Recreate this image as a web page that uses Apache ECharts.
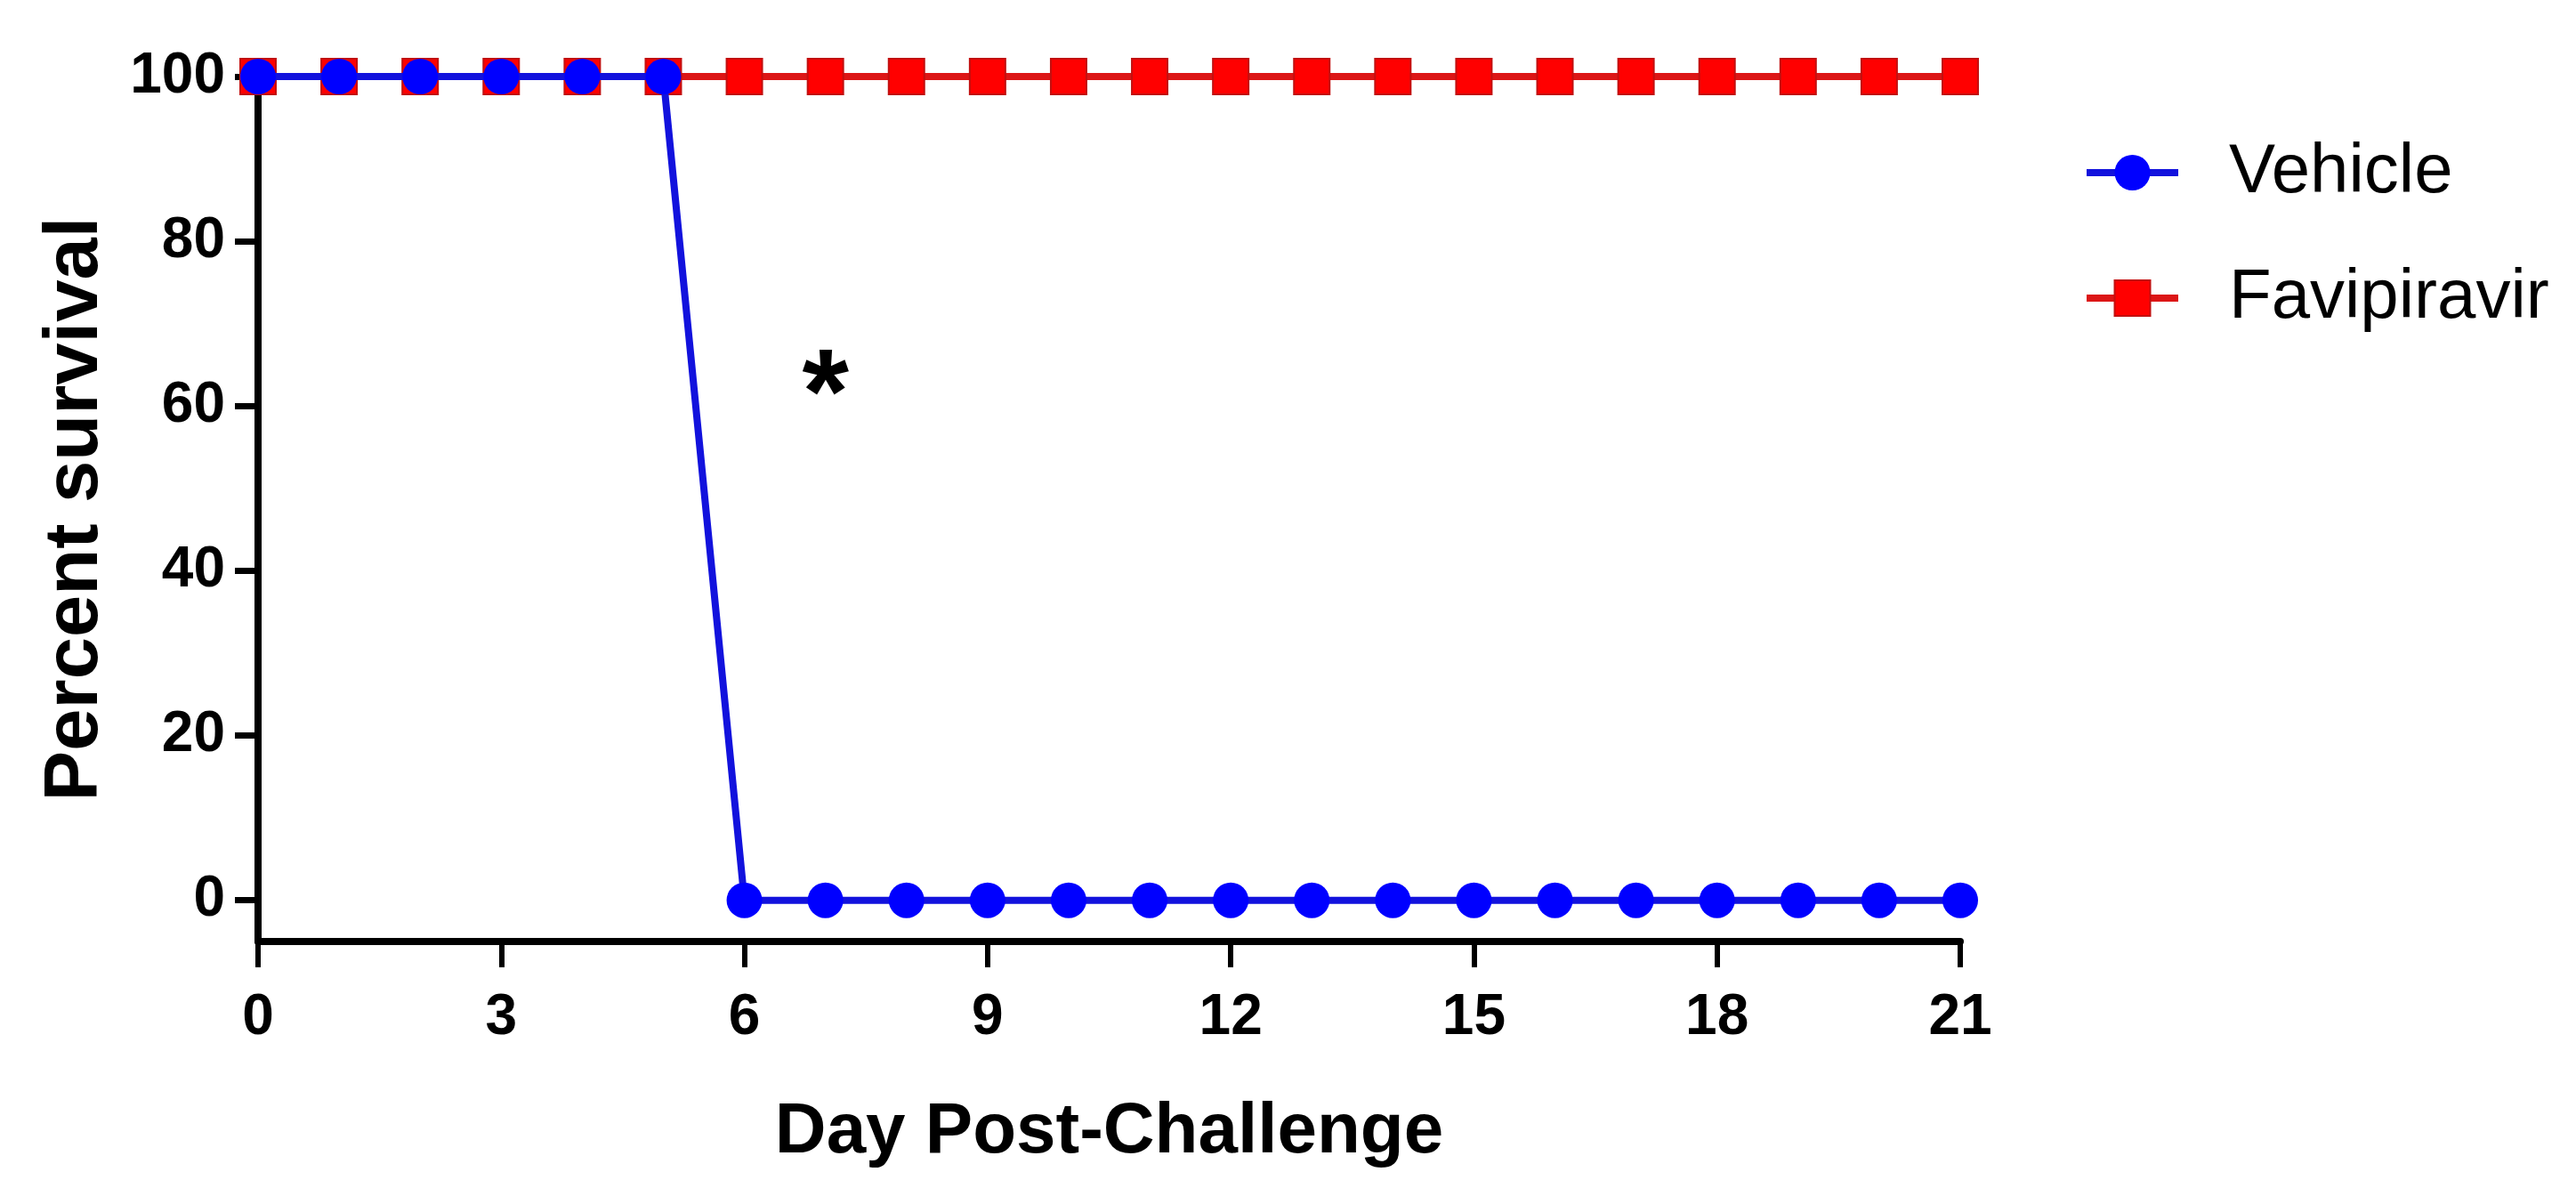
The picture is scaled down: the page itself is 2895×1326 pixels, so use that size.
<!DOCTYPE html>
<html>
<head>
<meta charset="utf-8">
<script src="https://cdn.jsdelivr.net/npm/echarts@6/dist/echarts.min.js"></script>
<style>
  html, body { margin: 0; padding: 0; background: #fff; }
  #chart { width: 2895px; height: 1326px; }
</style>
</head>
<body>
<div id="chart"></div>
<script>
  // 数据
  var days = [0, 1, 2, 3, 4, 5, 6, 7, 8, 9, 10, 11, 12, 13, 14, 15, 16, 17, 18, 19, 20, 21]
  var vehicle = [100, 100, 100, 100, 100, 100, 0, 0, 0, 0, 0, 0, 0, 0, 0, 0, 0, 0, 0, 0, 0, 0]
  var favipiravir = [100, 100, 100, 100, 100, 100, 100, 100, 100, 100, 100, 100, 100, 100, 100, 100, 100, 100, 100, 100, 100, 100]
  var yTicks = [0, 20, 40, 60, 80, 100]
  var seriesNames = ['Vehicle', 'Favipiravir']
  var starAt = [7, 64.5] // 显著性标记 *

  var font = 'Liberation Sans, Arial, Helvetica, sans-serif'

  function pairs(xs, ys) {
    return xs.map(function (x, i) { return [x, ys[i]] })
  }

  var myChart = echarts.init(document.getElementById('chart'))
  var option = {
    animation: false,
    backgroundColor: '#fff',
    grid: {
      left: 290,
      right: 692,
      top: 86,
      bottom: 268,
      containLabel: false,
      outerBoundsMode: 'none'
    },
    legend: {
      data: seriesNames,
      orient: 'vertical',
      left: 2336,
      top: 150,
      itemWidth: 103,
      itemHeight: 50,
      itemGap: 63,
      lineStyle: { width: 8 },
      textStyle: {
        fontFamily: font,
        fontSize: 78,
        lineHeight: 78,
        color: '#000',
        padding: [0, 0, 0, 52]
      }
    },
    xAxis: {
      type: 'value',
      min: 0,
      max: 21,
      interval: 3,
      name: 'Day Post-Challenge',
      nameLocation: 'middle',
      nameGap: 175,
      nameTextStyle: {
        fontFamily: font,
        fontSize: 80,
        fontWeight: 'bold',
        color: '#000'
      },
      axisLine: { onZero: false, lineStyle: { color: '#000', width: 8 } },
      axisTick: { inside: false, length: 29, lineStyle: { color: '#000', width: 6 } },
      axisLabel: {
        margin: 54,
        fontFamily: font,
        fontSize: 64,
        fontWeight: 'bold',
        color: '#000'
      },
      splitLine: { show: false }
    },
    yAxis: {
      type: 'value',
      min: -5,
      max: 100,
      name: 'Percent survival',
      nameLocation: 'middle',
      nameGap: 162,
      nameTextStyle: {
        fontFamily: font,
        fontSize: 85,
        fontWeight: 'bold',
        color: '#000'
      },
      axisLine: { onZero: false, lineStyle: { color: '#000', width: 8 } },
      axisTick: {
        length: 26,
        customValues: yTicks,
        lineStyle: { color: '#000', width: 7 }
      },
      axisLabel: {
        margin: 37,
        customValues: yTicks,
        fontFamily: font,
        fontSize: 64,
        fontWeight: 'bold',
        color: '#000'
      },
      splitLine: { show: false }
    },
    series: [
      {
        name: 'Favipiravir',
        type: 'line',
        z: 2,
        data: pairs(days, favipiravir),
        symbol: 'rect',
        symbolSize: 40,
        lineStyle: { color: '#dc1616', width: 8 },
        itemStyle: { color: '#ff0000', borderColor: '#c21010', borderWidth: 2 }
      },
      {
        name: 'Vehicle',
        type: 'line',
        z: 3,
        data: pairs(days, vehicle),
        symbol: 'circle',
        symbolSize: 40,
        lineStyle: { color: '#1212dd', width: 8 },
        itemStyle: { color: '#0000ff', borderWidth: 0 },
        markPoint: {
          symbol: 'circle',
          symbolSize: 1,
          itemStyle: { color: 'rgba(0,0,0,0)' },
          label: {
            show: true,
            position: 'inside',
            formatter: '*',
            offset: [0, 34],
            fontFamily: font,
            fontSize: 135,
            fontWeight: 'bold',
            color: '#000'
          },
          data: [{ coord: starAt }]
        }
      }
    ]
  }
  myChart.setOption(option)
</script>
</body>
</html>
